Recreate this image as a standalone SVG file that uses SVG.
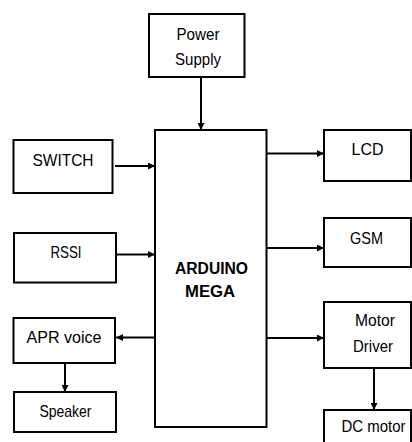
<svg xmlns="http://www.w3.org/2000/svg" width="412" height="442" viewBox="0 0 412 442">
<defs>
<marker id="ah" viewBox="0 0 10 10" refX="10" refY="5" markerWidth="3.5" markerHeight="3.5" orient="auto" markerUnits="strokeWidth">
<path d="M0,0 L10,5 L0,10 Z" fill="#000"/>
</marker>
</defs>
<style>
.box{fill:#fff;stroke:#000;stroke-width:2}
.t{font-family:"Liberation Sans",Arial,sans-serif;font-size:17px;fill:#000;text-anchor:middle}
.b{font-weight:bold;font-size:16px}
.c{stroke:#000;stroke-width:2;fill:none;marker-end:url(#ah)}
</style>
<rect width="412" height="442" fill="#fff"/>
<g id="connectors">
<line class="c" x1="201" y1="77" x2="201" y2="130"/>
<line class="c" x1="115" y1="166" x2="155" y2="166"/>
<line class="c" x1="116" y1="254.5" x2="155" y2="254.5"/>
<line class="c" x1="155" y1="337.5" x2="116" y2="337.5"/>
<line class="c" x1="65" y1="363" x2="65" y2="392"/>
<line class="c" x1="266.5" y1="153.5" x2="324" y2="153.5"/>
<line class="c" x1="266.5" y1="248" x2="324" y2="248"/>
<line class="c" x1="266.5" y1="338" x2="324" y2="338"/>
<line class="c" x1="374" y1="368" x2="374" y2="410"/>
</g>
<g id="power">
<rect class="box" x="149" y="14" width="95.5" height="63"/>
<text class="t" x="198" y="40" textLength="43" lengthAdjust="spacingAndGlyphs">Power</text>
<text class="t" x="198" y="65" textLength="46" lengthAdjust="spacingAndGlyphs">Supply</text>
</g>
<g id="arduino">
<rect class="box" x="155" y="130" width="111.5" height="297"/>
<text class="t b" x="211.5" y="273.5" textLength="73" lengthAdjust="spacingAndGlyphs">ARDUINO</text>
<text class="t b" x="210" y="296.5" textLength="50" lengthAdjust="spacingAndGlyphs">MEGA</text>
</g>
<g id="switch">
<rect class="box" x="13.5" y="140" width="99" height="53"/>
<text class="t" x="63" y="166" textLength="61" lengthAdjust="spacingAndGlyphs">SWITCH</text>
</g>
<g id="rssi">
<rect class="box" x="14" y="233" width="102" height="49.5"/>
<text class="t" x="66" y="258" textLength="31" lengthAdjust="spacingAndGlyphs">RSSI</text>
</g>
<g id="apr">
<rect class="box" x="13.5" y="318" width="101.5" height="45"/>
<text class="t" x="64" y="342.5" textLength="75" lengthAdjust="spacingAndGlyphs">APR voice</text>
</g>
<g id="speaker">
<rect class="box" x="14" y="392" width="102" height="40"/>
<text class="t" x="65.5" y="417" textLength="52" lengthAdjust="spacingAndGlyphs">Speaker</text>
</g>
<g id="lcd">
<rect class="box" x="324" y="130" width="87" height="51"/>
<text class="t" x="367.5" y="155" textLength="32" lengthAdjust="spacingAndGlyphs">LCD</text>
</g>
<g id="gsm">
<rect class="box" x="324" y="218" width="87" height="49"/>
<text class="t" x="366.5" y="243.5" textLength="33" lengthAdjust="spacingAndGlyphs">GSM</text>
</g>
<g id="motordriver">
<rect class="box" x="324" y="302" width="87" height="66"/>
<text class="t" x="375" y="326" textLength="40" lengthAdjust="spacingAndGlyphs">Motor</text>
<text class="t" x="373" y="352" textLength="40" lengthAdjust="spacingAndGlyphs">Driver</text>
</g>
<g id="dcmotor">
<path class="box" d="M324,442 V410 H411 V442"/>
<text class="t" x="373.5" y="432" textLength="64" lengthAdjust="spacingAndGlyphs">DC motor</text>
</g>
</svg>
